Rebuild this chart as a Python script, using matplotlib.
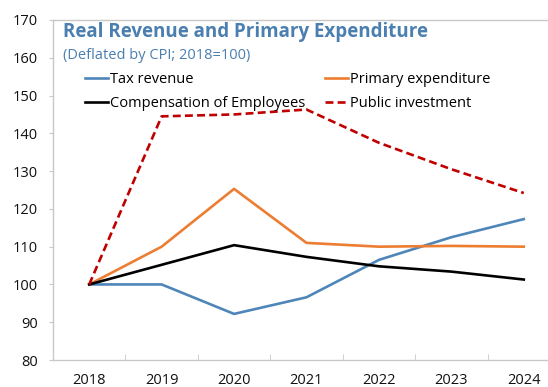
import matplotlib.pyplot as plt

plt.rcParams["font.family"] = ["Open Sans", "DejaVu Sans"]

years = ["2018", "2019", "2020", "2021", "2022", "2023", "2024"]
tax_revenue = [100, 100, 92.2, 96.6, 106.5, 112.5, 117.3]
primary_exp = [100, 110, 125.3, 111.0, 110.0, 110.2, 110.0]
compensation = [100, 105.2, 110.4, 107.3, 104.8, 103.4, 101.3]
public_inv = [100, 144.5, 145.0, 146.3, 137.5, 130.5, 124.2]

fig = plt.figure(figsize=(5.48, 3.87), dpi=100)
# axes runs past the right edge on purpose, like the cropped original
ax = fig.add_axes([53 / 548, 1 - 360 / 387, 507 / 548, 340 / 387])

x = range(len(years))
l_tax, = ax.plot(x, tax_revenue, color="#4f86b9", lw=1.9, label="Tax revenue")
l_prim, = ax.plot(x, primary_exp, color="#ed7d31", lw=1.9, label="Primary expenditure")
l_comp, = ax.plot(x, compensation, color="black", lw=1.9, label="Compensation of Employees")
l_inv, = ax.plot(x, public_inv, color="#c00000", lw=1.9, ls=(0, (3, 1.6)), label="Public investment")

ax.set_xlim(-0.5, len(years) - 0.5)
ax.set_ylim(80, 170)
ax.set_yticks(range(80, 171, 10))
ax.set_xticks(list(x))
ax.set_xticklabels(years)
ax.set_xticks([i + 0.5 for i in range(len(years) - 1)], minor=True)

for s in ax.spines.values():
    s.set_color("#c8c8c8")
    s.set_linewidth(1.0)

ax.tick_params(axis="x", which="major", length=0, pad=9, labelsize=10.5, labelcolor="#111111")
ax.tick_params(axis="x", which="minor", direction="in", length=4, color="#c8c8c8")
ax.tick_params(axis="y", length=3, color="#c8c8c8", pad=8, labelsize=10.5, labelcolor="#111111")

ax.text(0.02, 0.965, "Real Revenue and Primary Expenditure", transform=ax.transAxes,
        fontsize=13.5, fontweight="bold", color="#4a7fb0", va="center", ha="left")
ax.text(0.02, 0.895, "(Deflated by CPI; 2018=100)", transform=ax.transAxes,
        fontsize=10.5, color="#4a7fb0", va="center", ha="left")

# legend fills column by column: left column tax/compensation, right column the rest
ax.legend([l_tax, l_comp, l_prim, l_inv],
          ["Tax revenue", "Compensation of Employees", "Primary expenditure", "Public investment"],
          ncol=2, loc="upper left", bbox_to_anchor=(0.063, 0.847), frameon=False,
          handlelength=1.6, handletextpad=0.15, columnspacing=1.3,
          labelspacing=0.62, fontsize=10.5, borderpad=0, borderaxespad=0)

fig.savefig("out.png", dpi=100)
